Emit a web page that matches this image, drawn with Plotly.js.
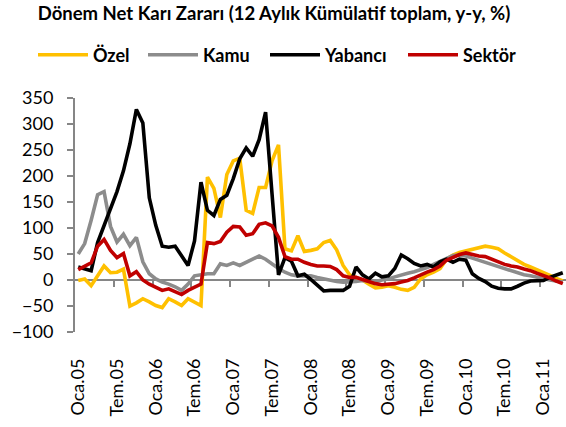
<!DOCTYPE html>
<html><head><meta charset="utf-8">
<script src="https://cdn.plot.ly/plotly-3.0.1.min.js"></script>
<style>html,body{margin:0;padding:0;background:#fff}#chart{width:566px;height:427px}</style>
</head><body><div id="chart"></div>
<script>
const monthNames = ['Oca','Şub','Mar','Nis','May','Haz','Tem','Ağu','Eyl','Eki','Kas','Ara'];
const yearCodes = ['05','06','07','08','09','10','11'];
const tickLabels = ['Oca.05','Tem.05','Oca.06','Tem.06','Oca.07','Tem.07','Oca.08','Tem.08','Oca.09','Tem.09','Oca.10','Tem.10','Oca.11'];
const seriesNames = ['Özel','Kamu','Yabancı','Sektör'];

const ozel = [-1,2,-11,9,27,14,15,21,-50,-44,-36,-42,-49,-53,-36,-42,-49,-36,-43,-49,
  198,176,120,203,229,234,134,128,178,178,229,260,60,56,85,55,57,60,72,76,
  58,28,10,5,0,-8,-15,-14,-11,-14,-18,-20,-14,2,10,15,22,40,48,53,
  56,58,62,65,63,60,52,44,38,30,25,20,14,9,3,-2];
const kamu = [50,70,115,164,170,103,73,88,66,82,35,12,2,-4,-8,-13,-20,-8,8,10,
  12,12,31,28,33,28,34,40,46,40,30,22,15,10,8,8,8,5,2,0,
  -3,-4,-4,-3,-1,-2,-3,0,2,6,10,13,16,20,24,30,36,42,47,48,
  46,42,38,34,30,26,22,18,14,10,8,5,2,0,-2,-4];
const yabanci = [25,22,18,72,106,137,170,210,262,328,302,158,105,65,63,65,45,28,75,188,
  134,124,155,163,195,233,254,238,270,323,165,10,43,36,8,11,1,-10,-21,-20,
  -20,-20,-12,25,10,2,13,6,8,22,48,41,32,27,30,25,35,40,34,40,
  38,12,3,-3,-12,-16,-17,-17,-12,-6,-2,-1,-1,5,10,14];
const sektor = [20,27,33,65,78,57,43,51,8,16,0,-8,-14,-20,-17,-22,-28,-20,-14,-8,
  72,70,74,92,103,102,86,89,107,110,104,82,45,40,40,34,30,27,27,26,
  20,8,5,5,1,-3,-7,-9,-8,-7,-4,-1,4,10,15,20,27,38,43,49,
  52,49,46,45,40,35,30,27,25,21,18,13,9,4,-2,-7];

const months = [];
yearCodes.forEach(y => monthNames.forEach(m => months.push(m + '.' + y)));
months.length = ozel.length;
const xIdx = months.map((m, i) => i);
const tickIdx = tickLabels.map(t => months.indexOf(t));
const boundaryIdx = tickIdx.filter(i => i > 0).map(i => i - 0.5);

const FONT = 'Lato, "Open Sans", sans-serif';
const AXC = '#868686';
const xr = [-0.5, months.length - 0.5];
const yr = [-100, 350];

function tr(name, data, color, xa, lg) {
  return {x: xIdx, y: data, name: name, type: 'scatter', mode: 'lines', xaxis: xa,
    legend: lg, line: {color: color, width: 3.6}, customdata: months,
    hovertemplate: '%{customdata}: %{y}<extra>' + name + '</extra>'};
}
const traces = [
  tr(seriesNames[0], ozel, '#FFC000', 'x', 'legend'),
  tr(seriesNames[1], kamu, '#8C8C8C', 'x', 'legend2'),
  tr(seriesNames[2], yabanci, '#000000', 'x', 'legend3'),
  tr(seriesNames[3], sektor, '#C00000', 'x2', 'legend4')
];

function lg(left) {
  return {orientation: 'h', xref: 'container', yref: 'container',
    x: left / 566, xanchor: 'left', y: 1 - 55/427, yanchor: 'middle',
    font: {family: FONT, size: 18, weight: 'bold', color: '#000'},
    itemwidth: 50, bgcolor: 'rgba(0,0,0,0)'};
}

const layout = {
  width: 566, height: 427,
  margin: {l: 75, r: 0, t: 98, b: 95},
  paper_bgcolor: '#fff', plot_bgcolor: '#fff',
  font: {family: FONT, color: '#000', size: 18},
  title: {text: 'Dönem Net Karı Zararı (12 Aylık Kümülatif toplam, y-y, %)',
    font: {family: FONT, size: 18.5, weight: 'bold', color: '#000'},
    x: 274/566, xanchor: 'center', xref: 'container',
    y: 1 - 14/427, yanchor: 'middle', yref: 'container'},
  showlegend: true,
  legend: lg(33), legend2: lg(143), legend3: lg(265), legend4: lg(403),
  xaxis: {range: xr, anchor: 'free', position: (0 - yr[0]) / (yr[1] - yr[0]),
    showline: true, linecolor: AXC, linewidth: 2, layer: 'below traces',
    tickmode: 'array', tickvals: boundaryIdx, ticks: 'outside', ticklen: 6,
    tickcolor: AXC, tickwidth: 2, showticklabels: false,
    showgrid: false, zeroline: false, fixedrange: true},
  xaxis2: {range: xr, overlaying: 'x', anchor: 'y', side: 'bottom',
    showline: false, ticks: '', showgrid: false, zeroline: false,
    tickmode: 'array', tickvals: tickIdx, ticktext: tickLabels, tickangle: -90,
    tickfont: {family: FONT, size: 18, color: '#000'}, ticklabelstandoff: 22,
    fixedrange: true},
  yaxis: {range: yr, dtick: 50, showline: true, linecolor: AXC, linewidth: 2,
    ticks: 'outside', ticklen: 6, tickcolor: AXC, tickwidth: 2,
    tickfont: {family: FONT, size: 18, color: '#000'}, ticklabelstandoff: 10,
    showgrid: false, zeroline: false, fixedrange: true}
};
Plotly.newPlot('chart', traces, layout, {displayModeBar: false, staticPlot: true});
</script></body></html>
